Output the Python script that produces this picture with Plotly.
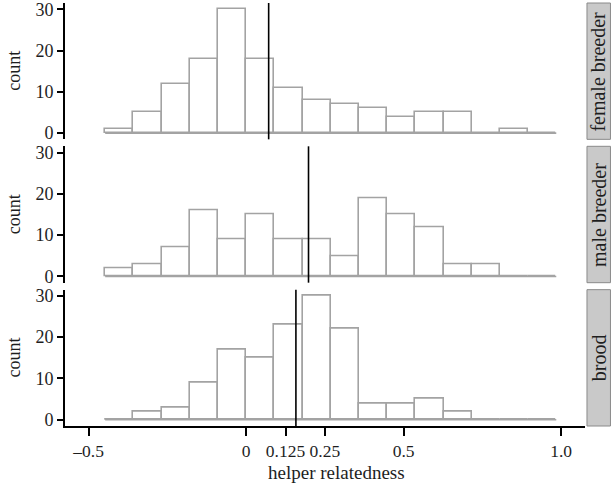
import plotly.graph_objects as go

# ---- data ----
panels = ["female breeder", "male breeder", "brood"]
bin_start = -0.4475
bin_width = 0.0895
female_counts = [1, 5, 12, 18, 30, 18, 11, 8, 7, 6, 4, 5, 5, 0, 1, 0]
male_counts = [2, 3, 7, 16, 9, 15, 9, 9, 5, 19, 15, 12, 3, 3, 0, 0]
brood_counts = [0, 2, 3, 9, 17, 15, 23, 30, 22, 4, 4, 5, 2, 0, 0, 0]
mean_lines = [0.0715, 0.198, 0.158]
x_tick_vals = [-0.5, 0, 0.125, 0.25, 0.5, 1.0]
x_tick_text = ["\u20130.5", "0", "0.125", "0.25", "0.5", "1.0"]
y_tick_vals = [0, 10, 20, 30]

all_counts = [female_counts, male_counts, brood_counts]

FONT = "Liberation Serif"
BAR_LINE = "#a3a3a3"
TXT = "#1e1e1e"

fig = go.Figure()

domains = [[0.6777, 1.0], [0.3388, 0.6612], [0.0, 0.3223]]

for i, counts in enumerate(all_counts):
    n = len(counts)
    edges = [bin_start + k * bin_width for k in range(n + 1)]
    centers = [(edges[k] + edges[k + 1]) / 2 for k in range(n)]
    ax = "" if i == 0 else str(i + 1)
    fig.add_trace(go.Scatter(
        x=[edges[0], edges[-1]], y=[0, 0], mode="lines",
        line=dict(color=BAR_LINE, width=1.6), showlegend=False,
        xaxis="x" + ax, yaxis="y" + ax, hoverinfo="skip"))
    fig.add_trace(go.Bar(
        x=centers, y=counts, width=[bin_width] * n,
        marker=dict(color="white", line=dict(color=BAR_LINE, width=1.6)),
        showlegend=False, xaxis="x" + ax, yaxis="y" + ax))
    fig.add_shape(type="line", xref="x" + ax, yref="y" + ax + " domain",
                  x0=mean_lines[i], x1=mean_lines[i], y0=0, y1=1,
                  line=dict(color="black", width=1.6))
    # strip
    fig.add_shape(type="rect", xref="paper", yref="paper",
                  x0=0.956, x1=0.999, y0=domains[i][0], y1=domains[i][1],
                  fillcolor="#c9c9c9", line=dict(color="#8a8a8a", width=1))
    ymid = (domains[i][0] + domains[i][1]) / 2
    fig.add_annotation(x=0.977, y=ymid, xref="paper", yref="paper",
                       text=panels[i], textangle=-90, showarrow=False,
                       xanchor="center", yanchor="middle",
                       font=dict(family=FONT, size=20, color=TXT))
    fig.add_annotation(x=-0.094, y=ymid, xref="paper", yref="paper",
                       text="count", textangle=-90, showarrow=False,
                       xanchor="center", yanchor="middle",
                       font=dict(family=FONT, size=18, color=TXT))

layout = dict(
    width=612, height=484,
    margin=dict(l=65, r=1, t=3, b=57.5),
    plot_bgcolor="white", paper_bgcolor="white",
    bargap=0, barmode="overlay",
    font=dict(family=FONT, size=18, color=TXT),
)

for i in range(3):
    ax = "" if i == 0 else str(i + 1)
    last = (i == 2)
    layout["xaxis" + ax] = dict(
        domain=[0, 0.952], range=[-0.575, 1.075],
        anchor="y" + ax, matches=None if i == 0 else "x",
        showgrid=False, zeroline=False, automargin=False,
        showline=last, linecolor="black", linewidth=1.6,
        ticks="outside" if last else "", ticklen=8, tickwidth=1.6,
        tickcolor="black",
        tickvals=x_tick_vals, ticktext=x_tick_text,
        showticklabels=last, ticklabeloverflow="allow",
        tickfont=dict(family=FONT, size=17.5, color=TXT))
    layout["yaxis" + ax] = dict(
        domain=domains[i], range=[-1.5, 31.5], anchor="x" + ax,
        showgrid=False, zeroline=False, automargin=False,
        showline=True, linecolor="black", linewidth=1.6,
        ticks="outside", ticklen=6, tickwidth=1.6, tickcolor="black",
        tickvals=y_tick_vals, ticklabeloverflow="allow",
        tickfont=dict(family=FONT, size=18, color=TXT))

fig.update_layout(**layout)

fig.add_annotation(x=0.497, y=-0.109, xref="paper", yref="paper",
                   text="helper relatedness", showarrow=False,
                   xanchor="center", yanchor="middle",
                   font=dict(family=FONT, size=19, color=TXT))

fig.write_html("out.html", config={"displayModeBar": False},
               post_script="document.body.style.margin='0';")
